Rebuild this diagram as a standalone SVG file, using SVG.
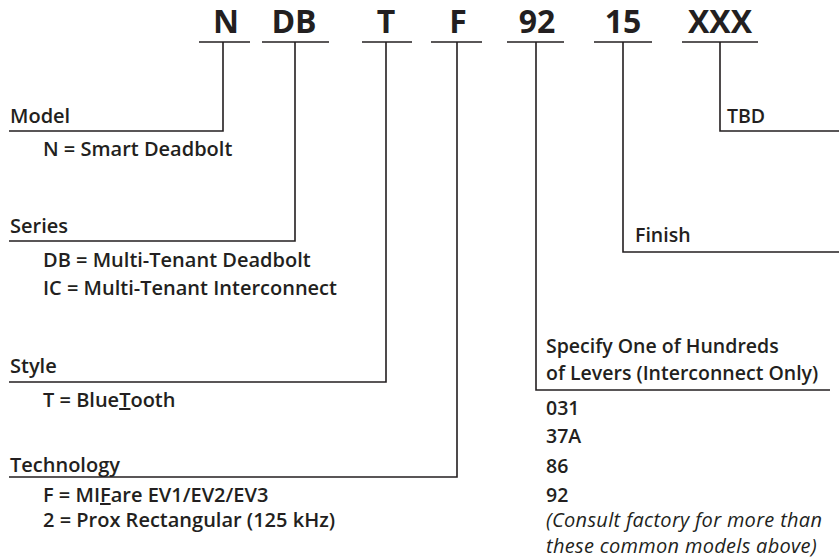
<svg xmlns="http://www.w3.org/2000/svg" width="839" height="560" viewBox="0 0 839 560">
<style>
  .code { font-family: "Open Sans", "Liberation Sans", sans-serif; font-weight: 700; font-size: 32px; fill: #231f20; text-anchor: middle; }
  .t { font-family: "Open Sans", "Liberation Sans", sans-serif; font-weight: 600; font-size: 20px; fill: #231f20; }
  .s { font-family: "Open Sans", "Liberation Sans", sans-serif; font-weight: 600; font-size: 19.5px; fill: #231f20; }
  .it { font-family: "Open Sans", "Liberation Sans", sans-serif; font-style: italic; font-weight: 400; font-size: 20px; letter-spacing: 0.3px; fill: #231f20; }
  .u { text-decoration: underline; }
  .ln { stroke: #231f20; stroke-width: 1.6; fill: none; }
</style>
<rect width="839" height="560" fill="#ffffff"/>
<g id="codes">
  <text class="code" x="226" y="33">N</text>
  <text class="code" x="294" y="33">DB</text>
  <text class="code" x="386" y="33">T</text>
  <text class="code" x="458" y="33">F</text>
  <text class="code" x="537" y="33">92</text>
  <text class="code" x="623" y="33">15</text>
  <text class="code" x="720" y="33">XXX</text>
</g>
<g id="connectors">
  <line class="ln" x1="199" y1="42" x2="250" y2="42"/>
  <line class="ln" x1="262" y1="42" x2="329" y2="42"/>
  <line class="ln" x1="362" y1="42" x2="412" y2="42"/>
  <line class="ln" x1="431" y1="42" x2="482" y2="42"/>
  <line class="ln" x1="507" y1="42" x2="564" y2="42"/>
  <line class="ln" x1="594" y1="42" x2="652" y2="42"/>
  <line class="ln" x1="682" y1="42" x2="758" y2="42"/>
  <polyline class="ln" points="223,42 223,131 9,131"/>
  <polyline class="ln" points="295,42 295,241 9,241"/>
  <polyline class="ln" points="386,42 386,382 9,382"/>
  <polyline class="ln" points="457,42 457,477 9,477"/>
  <polyline class="ln" points="536,42 536,390 830,390"/>
  <polyline class="ln" points="623,42 623,252 839,252"/>
  <polyline class="ln" points="720,42 720,131 839,131"/>
</g>
<g id="model">
  <text class="t" x="10" y="123">Model</text>
  <text class="t" x="43" y="156">N = Smart Deadbolt</text>
</g>
<g id="series">
  <text class="t" x="10" y="233">Series</text>
  <text class="t" x="43" y="267">DB = Multi-Tenant Deadbolt</text>
  <text class="t" x="43" y="295">IC = Multi-Tenant Interconnect</text>
</g>
<g id="style">
  <text class="t" x="10" y="373">Style</text>
  <text class="t" x="43" y="407">T = Blue<tspan class="u">T</tspan>ooth</text>
</g>
<g id="technology">
  <text class="t" x="10" y="472">Technology</text>
  <text class="t" x="43" y="502">F = MI<tspan class="u">F</tspan>are EV1/EV2/EV3</text>
  <text class="t" x="43" y="527">2 = Prox Rectangular (125 kHz)</text>
</g>
<g id="levers">
  <text class="s" x="546" y="353">Specify One of Hundreds</text>
  <text class="s" x="546" y="380">of Levers (Interconnect Only)</text>
  <text class="s" x="546" y="415">031</text>
  <text class="s" x="546" y="443">37A</text>
  <text class="s" x="546" y="473">86</text>
  <text class="s" x="546" y="502">92</text>
  <text class="it" x="546" y="527">(Consult factory for more than</text>
  <text class="it" x="546" y="553">these common models above)</text>
</g>
<g id="finish">
  <text class="s" x="635" y="242">Finish</text>
</g>
<g id="tbd">
  <text class="s" x="727" y="123">TBD</text>
</g>
</svg>
